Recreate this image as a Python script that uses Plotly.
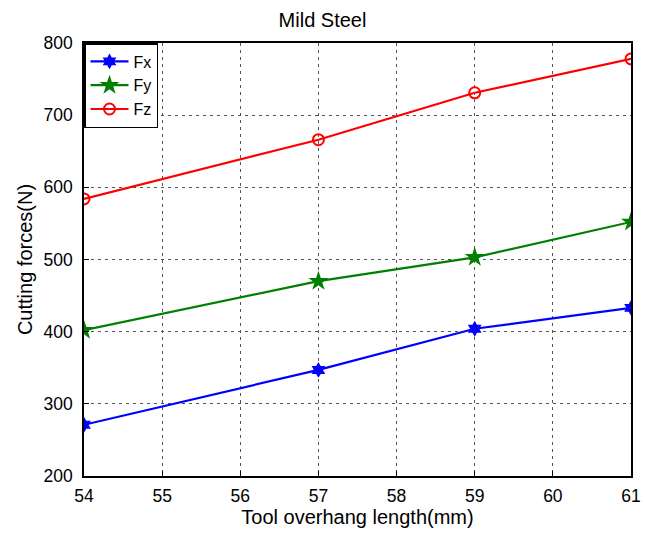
import plotly.graph_objects as go

x = [54, 57, 59, 61]
fx = [271, 347, 404, 433]
fy = [402, 470, 503, 552]
fz = [584, 666, 731, 778]
xticks = [54, 55, 56, 57, 58, 59, 60, 61]
yticks = [200, 300, 400, 500, 600, 700, 800]

fig = go.Figure()
fig.add_trace(go.Scatter(x=x, y=fx, name="Fx", mode="lines+markers",
                         line=dict(color="blue", width=2.2),
                         marker=dict(symbol="hexagram", size=12, color="blue")))
fig.add_trace(go.Scatter(x=x, y=fy, name="Fy", mode="lines+markers",
                         line=dict(color="green", width=2.2),
                         marker=dict(symbol="star", size=15, color="green")))
fig.add_trace(go.Scatter(x=x, y=fz, name="Fz", mode="lines+markers",
                         line=dict(color="red", width=2.2),
                         marker=dict(symbol="circle-open", size=11, color="red",
                                     line=dict(width=2, color="red"))))

axis_common = dict(showline=True, linecolor="black", linewidth=1.5, mirror=True,
                   showgrid=True, gridcolor="#555", griddash="3px,4px", gridwidth=1,
                   ticks="inside", ticklen=5, tickcolor="black", zeroline=False,
                   automargin=False,
                   tickfont=dict(size=17.5, color="black"))

fig.update_layout(
    width=645, height=533,
    margin=dict(l=84, r=14, t=43, b=57),
    paper_bgcolor="white", plot_bgcolor="white",
    font=dict(family="Liberation Sans, Arial, sans-serif", color="black"),
    title=dict(text="Mild Steel", x=0.5, xanchor="center",
               yref="container", y=(533 - 20) / 533, yanchor="middle",
               font=dict(size=20, color="black")),
    xaxis=dict(range=[54, 61], tickvals=xticks, ticklabelstandoff=3,
               title=dict(text="Tool overhang length(mm)", font=dict(size=20), standoff=2),
               **axis_common),
    yaxis=dict(range=[200, 800], tickvals=yticks, ticklabelstandoff=6,
               title=dict(text="Cutting forces(N)", font=dict(size=20), standoff=6),
               **axis_common),
    legend=dict(x=0.0, y=1.0, xanchor="left", yanchor="top",
                bordercolor="black", borderwidth=1.5, bgcolor="white",
                font=dict(size=16), tracegroupgap=0, itemwidth=38),
    showlegend=True,
)

fig.write_html("out.html")
